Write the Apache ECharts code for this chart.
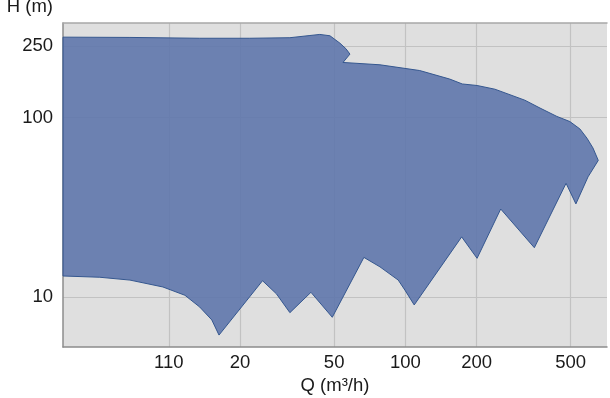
<!DOCTYPE html>
<html>
<head>
<meta charset="utf-8">
<script src="https://cdn.jsdelivr.net/npm/echarts@6/dist/echarts.min.js"></script>
<style>
  html, body { margin: 0; padding: 0; background: #fff; }
  #chart { width: 610px; height: 398px; }
</style>
</head>
<body>
<div id="chart"></div>
<script>
// operating range outline, upper edge left -> right
const upperQ = [3.57, 6.85, 13.5, 22.0, 32.5, 39.5, 43.5, 48.0, 52.9, 56.1, 58.3, 54.5, 78.1, 115, 154, 174, 201, 239, 269, 320, 371, 437, 496, 547, 586, 621, 654];
const upperH = [281, 280, 277, 277, 279, 287, 291, 286, 260, 242, 226, 203, 197, 183, 164, 154, 151, 144, 136, 125, 113, 101.5, 95, 86.4, 76.7, 67.7, 57.7];

// lower edge right -> left
const lowerQ = [592, 526, 478, 351, 253, 201, 173, 109, 99.6, 93.3, 78.1, 66.8, 49.1, 39.9, 32.5, 28.5, 24.9, 16.3, 15.2, 13.5, 11.7, 9.44, 6.85, 5.11, 3.57];
const lowerH = [46.7, 33.0, 43.0, 18.8, 30.9, 16.4, 21.6, 9.01, 10.9, 12.4, 14.7, 16.6, 7.69, 10.6, 8.16, 10.4, 12.3, 6.12, 7.43, 8.78, 10.2, 11.35, 12.4, 12.86, 13.07];

const xTicks = [10, 20, 50, 100, 200, 500];
const yTicks = [10, 100, 250];

const outline = upperQ.map((q, i) => [q, upperH[i]])
  .concat(lowerQ.map((q, i) => [q, lowerH[i]]));

const font = '"Liberation Sans", Arial, sans-serif';
const chart = echarts.init(document.getElementById('chart'), null, { renderer: 'canvas' });

const option = {
  animation: false,
  grid: {
    left: 63, right: 3, top: 23, bottom: 51,
    outerBoundsMode: 'none',
    show: true, backgroundColor: '#dfdfdf', borderWidth: 0
  },
  xAxis: [{
    type: 'log',
    min: 3.57,
    max: 712,
    name: 'Q (m³/h)',
    nameLocation: 'middle',
    nameGap: 26,
    nameTextStyle: { color: '#1a1a1a', fontSize: 18.5, fontFamily: font },
    axisLine: { show: true, lineStyle: { color: '#8c8c8c', width: 1.5 } },
    axisTick: { show: false, customValues: xTicks },
    axisLabel: {
      customValues: xTicks,
      margin: 6,
      color: '#1a1a1a', fontSize: 18.5, fontFamily: font,
      // the reference draws "1" and "10" run together at this tick
      formatter: v => (v === 10 ? '110' : String(v))
    },
    splitLine: { show: true, lineStyle: { color: '#c2c2c2', width: 1.2 } },
    minorSplitLine: { show: false }
  }, {
    type: 'log',
    position: 'top',
    min: 3.57,
    max: 712,
    axisLine: { show: true, lineStyle: { color: '#a8a8a8', width: 1.5 } },
    axisTick: { show: false },
    axisLabel: { show: false },
    splitLine: { show: false }
  }],
  yAxis: {
    type: 'log',
    min: 5.25,
    max: 337,
    name: 'H (m)',
    nameLocation: 'end',
    nameGap: 7,
    nameTextStyle: { color: '#1a1a1a', fontSize: 18.5, fontFamily: font, align: 'right', padding: [0, 10, 0, 0] },
    axisLine: { show: true, lineStyle: { color: '#8c8c8c', width: 1.5 } },
    axisTick: { show: false, customValues: yTicks },
    axisLabel: { customValues: yTicks, margin: 10, color: '#1a1a1a', fontSize: 18.5, fontFamily: font },
    splitLine: { show: true, lineStyle: { color: '#c2c2c2', width: 1.2 } }
  },
  series: [{
    type: 'custom',
    xAxisIndex: 0,
    data: outline,
    encode: { x: 0, y: 1 },
    renderItem(params, api) {
      if (params.dataIndex !== 0) return;
      const pts = outline.map(p => api.coord(p));
      return {
        type: 'polygon',
        shape: { points: pts },
        style: { fill: 'rgba(95, 119, 172, 0.9)', stroke: '#35578f', lineWidth: 1 }
      };
    }
  }]
};

chart.setOption(option);
</script>
</body>
</html>
